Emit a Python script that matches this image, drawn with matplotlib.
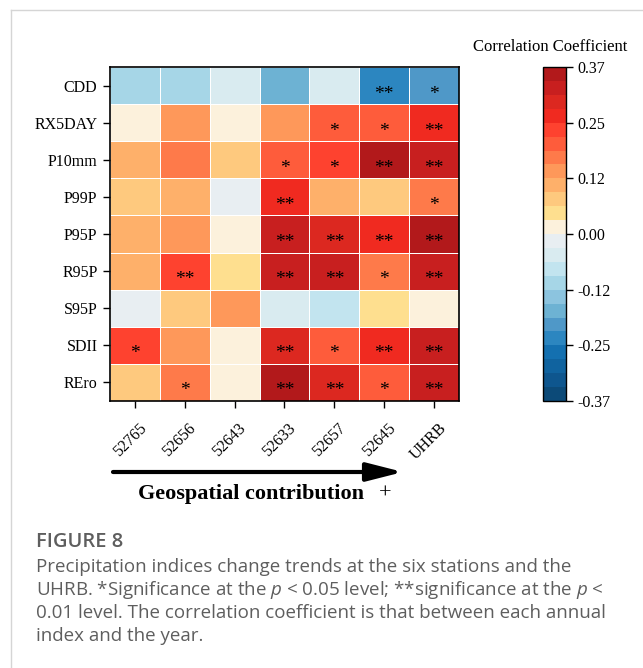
import numpy as np
import matplotlib
matplotlib.use('Agg')
import matplotlib.pyplot as plt
from matplotlib.colors import ListedColormap, BoundaryNorm
from matplotlib.transforms import ScaledTranslation
from matplotlib.lines import Line2D

plt.rcParams['font.family'] = 'Liberation Serif'
plt.rcParams['axes.unicode_minus'] = False
plt.rcParams['mathtext.fontset'] = 'custom'
plt.rcParams['mathtext.it'] = 'Open Sans:italic'
plt.rcParams['mathtext.rm'] = 'Open Sans'

# data
indices = ['CDD', 'RX5DAY', 'P10mm', 'P99P', 'P95P', 'R95P', 'S95P', 'SDII', 'REro']
stations = ['52765', '52656', '52643', '52633', '52657', '52645', 'UHRB']

cdd = [-0.11, -0.11, -0.05, -0.17, -0.05, -0.23, -0.20]
rx5day = [0.02, 0.14, 0.02, 0.14, 0.20, 0.20, 0.26]
p10mm = [0.11, 0.17, 0.08, 0.20, 0.23, 0.35, 0.32]
p99p = [0.08, 0.11, -0.02, 0.26, 0.11, 0.08, 0.17]
p95p = [0.11, 0.14, 0.02, 0.32, 0.29, 0.26, 0.35]
r95p = [0.11, 0.23, 0.05, 0.32, 0.32, 0.17, 0.32]
s95p = [-0.02, 0.08, 0.14, -0.05, -0.08, 0.05, 0.02]
sdii = [0.23, 0.14, 0.02, 0.29, 0.20, 0.26, 0.32]
rero = [0.08, 0.17, 0.02, 0.35, 0.29, 0.20, 0.32]

sig = [
    ['', '', '', '', '', '**', '*'],
    ['', '', '', '', '*', '*', '**'],
    ['', '', '', '*', '*', '**', '**'],
    ['', '', '', '**', '', '', '*'],
    ['', '', '', '**', '**', '**', '**'],
    ['', '**', '', '**', '**', '*', '**'],
    ['', '', '', '', '', '', ''],
    ['*', '', '', '**', '*', '**', '**'],
    ['', '*', '', '**', '**', '*', '**'],
]

vmax = 0.37
cbar_ticks = np.linspace(-vmax, vmax, 7)

# 24 discrete colours, low -> high
colors = ['#0c4a78', '#0e568e', '#10639f', '#1470b0', '#2c86c0', '#4f98c8',
          '#6db2d3', '#8cc4df', '#a6d6e7', '#c2e4ef', '#d9ebf0', '#e8eef2',
          '#fcf1dc', '#fedf8f', '#fec97e', '#feb06a', '#fe985a', '#fe7a4a',
          '#fe5c3b', '#fe422f', '#f02a20', '#dc2820', '#c81f1f', '#b2191b']
cmap = ListedColormap(colors)
norm = BoundaryNorm(np.linspace(-vmax, vmax, len(colors) + 1), cmap.N)

values = np.array([cdd, rx5day, p10mm, p99p, p95p, r95p, s95p, sdii, rero])

W, H = 643, 668
fig = plt.figure(figsize=(W / 100, H / 100), dpi=100)

ax = fig.add_axes([110 / W, 1 - 401 / H, 349 / W, 334 / H])
mesh = ax.pcolormesh(values, cmap=cmap, norm=norm, edgecolors='white', linewidth=0.5)
ax.set_xlim(0, len(stations))
ax.set_ylim(len(indices), 0)
ax.set_xticks(np.arange(len(stations)) + 0.5)
ax.set_xticklabels(stations, rotation=45, ha='center', fontsize=11.5)
ax.set_yticks(np.arange(len(indices)) + 0.5)
ax.set_yticklabels(indices, fontsize=11.5)
ax.tick_params(axis='x', length=5, width=1, pad=9)
ax.tick_params(axis='y', length=5, width=1, pad=4)
for lab in ax.get_xticklabels():
    lab.set_transform(lab.get_transform() + ScaledTranslation(-0.05, 0, fig.dpi_scale_trans))
for s in ax.spines.values():
    s.set_linewidth(1.2)

for i in range(len(indices)):
    for j in range(len(stations)):
        if sig[i][j]:
            ax.text(j + 0.5, i + 0.5, sig[i][j], ha='center', va='top', fontsize=14)

cax = fig.add_axes([543 / W, 1 - 401 / H, 23 / W, 334 / H])
cb = fig.colorbar(mesh, cax=cax, ticks=cbar_ticks, format='%.2f')
cb.outline.set_linewidth(1)
cax.minorticks_off()
cax.tick_params(length=5, width=1, labelsize=11.5, pad=3)
fig.text(550 / W, 1 - 47 / H, 'Correlation Coefficient', ha='center', va='center', fontsize=12)

# arrow under the x labels
ax.annotate('', xy=(403 / W, 1 - 472 / H), xytext=(113 / W, 1 - 472 / H),
            xycoords='figure fraction', textcoords='figure fraction',
            arrowprops=dict(arrowstyle='-|>,head_length=1.1,head_width=0.28',
                            mutation_scale=20, lw=3, color='k', shrinkA=0, shrinkB=0))
fig.text(251 / W, 1 - 499 / H, 'Geospatial contribution', ha='center', va='baseline',
         fontsize=16, fontweight='bold')
fig.text(385 / W, 1 - 499 / H, '+', ha='center', va='baseline', fontsize=16)

# frame
fig.add_artist(Line2D([11 / W, 11 / W], [0, 1 - 10 / H], color='#d5d5d5', lw=1))
fig.add_artist(Line2D([11 / W, 1], [1 - 10 / H, 1 - 10 / H], color='#d5d5d5', lw=1))

# caption
cap_color = '#5e5e5e'
fig.text(36 / W, 1 - 547 / H, 'FIGURE 8', fontsize=14.5, fontweight='semibold',
         family='Open Sans', color=cap_color, va='baseline')
cap_lines = ['Precipitation indices change trends at the six stations and the',
             'UHRB. *Significance at the $p$ < 0.05 level; **significance at the $p$ <',
             '0.01 level. The correlation coefficient is that between each annual',
             'index and the year.']
for k, line in enumerate(cap_lines):
    fig.text(36 / W, 1 - (572 + 23 * k) / H, line, fontsize=13.5, family='Open Sans',
             color=cap_color, va='baseline')

fig.savefig('out.png', dpi=100)
